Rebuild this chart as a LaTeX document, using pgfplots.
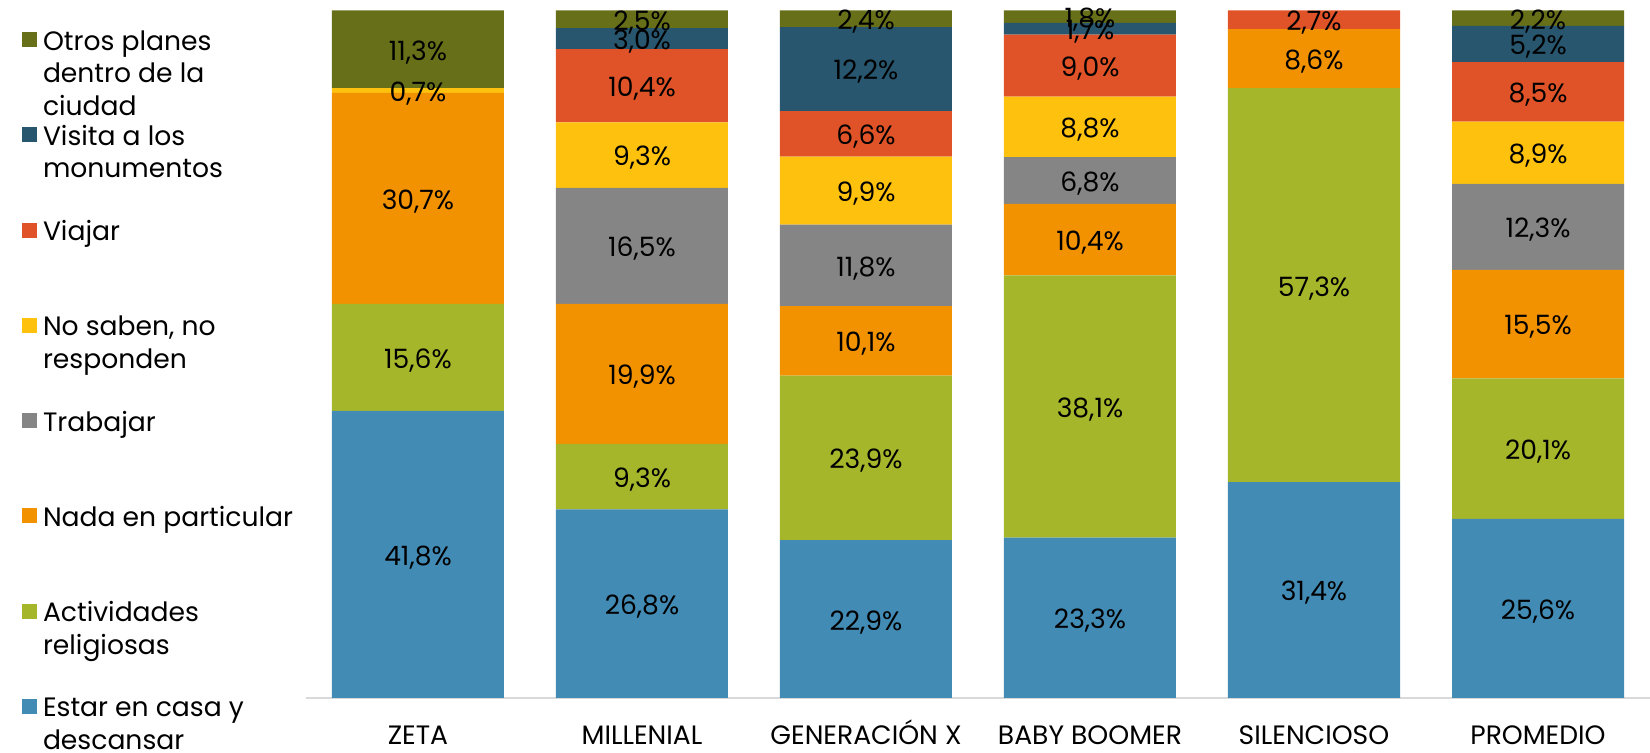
\documentclass[border=0pt]{standalone}
\usepackage{pgfplots}
\pgfplotsset{compat=1.18}
\usepackage{pgfplotstable}
\usepackage{fontspec}
\setmainfont{Poppins}

\definecolor{cCasa}{HTML}{428BB5}
\definecolor{cRel}{HTML}{A5B62B}
\definecolor{cNada}{HTML}{F39200}
\definecolor{cTrab}{HTML}{858585}
\definecolor{cNsnr}{HTML}{FEC20E}
\definecolor{cViaj}{HTML}{E05328}
\definecolor{cVisi}{HTML}{27566E}
\definecolor{cOtros}{HTML}{677019}

% valores en %, de abajo hacia arriba
\pgfplotstableread{
x casa rel  nada trab nsnr viaj visi otros
0 41.8 15.6 30.7 0    0.7  0    0    11.3
1 26.8 9.3  19.9 16.5 9.3  10.4 3.0  2.5
2 22.9 23.9 10.1 11.8 9.9  6.6  12.2 2.4
3 23.3 38.1 10.4 6.8  8.8  9.0  1.7  1.8
4 31.4 57.3 8.6  0    0    2.7  0    0
5 25.6 20.1 15.5 12.3 8.9  8.5  5.2  2.2
}\datos

% barras al 100%
\newcommand\tot{(\thisrow{casa}+\thisrow{rel}+\thisrow{nada}+\thisrow{trab}+\thisrow{nsnr}+\thisrow{viaj}+\thisrow{visi}+\thisrow{otros})}
\newcommand\lgd[1]{\parbox[t]{150pt}{\strut #1}}
\newcommand\fnt{\fontsize{13.3}{16.3}\selectfont}

\pgfplotsset{base/.style={
    scale only axis,
    width=672pt, height=343.75pt,
    ymin=0, ymax=100,
    xmin=-0.5, xmax=5.5,
}}

\begin{document}
\begin{tikzpicture}
\useasboundingbox (-153pt,-27.5pt) rectangle (672pt,349pt);
\begin{axis}[
    base,
    ybar stacked,
    bar width=86pt,
    axis y line=none,
    axis x line*=bottom,
    x axis line style={draw=black!15, line width=0.75pt},
    major tick length=0pt,
    xtick={0,...,5},
    xticklabels={ZETA,MILLENIAL,GENERACIÓN X,BABY BOOMER,SILENCIOSO,PROMEDIO},
    xticklabel style={anchor=base, yshift=-23.5pt, font=\fnt},
    reverse legend,
    legend cell align=left,
    legend style={draw=none, fill=none, at={(-0.2113,0.9757)}, anchor=north west,
        inner sep=0pt, outer sep=0pt, row sep={47.64pt,between origins}, column sep=3pt,
        font=\fnt, cells={anchor=base west}, nodes={inner sep=0pt}},
    legend image code/.code={\fill[#1,draw=none] (0pt,1.5pt) rectangle (7.5pt,9pt);},
  ]
  \addplot[fill=cCasa, draw=none] table[x=x, y expr=100*\thisrow{casa}/\tot] {\datos};
  \addplot[fill=cRel, draw=none] table[x=x, y expr=100*\thisrow{rel}/\tot] {\datos};
  \addplot[fill=cNada, draw=none] table[x=x, y expr=100*\thisrow{nada}/\tot] {\datos};
  \addplot[fill=cTrab, draw=none] table[x=x, y expr=100*\thisrow{trab}/\tot] {\datos};
  \addplot[fill=cNsnr, draw=none] table[x=x, y expr=100*\thisrow{nsnr}/\tot] {\datos};
  \addplot[fill=cViaj, draw=none] table[x=x, y expr=100*\thisrow{viaj}/\tot] {\datos};
  \addplot[fill=cVisi, draw=none] table[x=x, y expr=100*\thisrow{visi}/\tot] {\datos};
  \addplot[fill=cOtros, draw=none] table[x=x, y expr=100*\thisrow{otros}/\tot] {\datos};
  \legend{\lgd{Estar en casa y\\descansar},
          \lgd{Actividades\\religiosas},
          \lgd{Nada en particular},
          \lgd{Trabajar},
          \lgd{No saben, no\\responden},
          \lgd{Viajar},
          \lgd{Visita a los\\monumentos},
          \lgd{Otros planes\\dentro de la\\ciudad}}
\end{axis}
% etiquetas centradas en cada tramo
\begin{axis}[
    base,
    hide axis,
    point meta=explicit,
    nodes near coords={\pgfmathfloatparsenumber{\pgfplotspointmeta}\pgfmathfloatifflags{\pgfmathresult}{0}{}{\pgfmathprintnumber[fixed,fixed zerofill,precision=1,use comma,assume math mode=true]{\pgfplotspointmeta}\%}},
    every node near coord/.append style={anchor=center, yshift=-1.5pt, inner sep=0pt, font=\fnt, text=black},
  ]
  \addplot[draw=none, mark=none] table[x=x, y expr=100*(\thisrow{casa}/2)/\tot, meta=casa] {\datos};
  \addplot[draw=none, mark=none] table[x=x, y expr=100*(\thisrow{casa}+\thisrow{rel}/2)/\tot, meta=rel] {\datos};
  \addplot[draw=none, mark=none] table[x=x, y expr=100*(\thisrow{casa}+\thisrow{rel}+\thisrow{nada}/2)/\tot, meta=nada] {\datos};
  \addplot[draw=none, mark=none] table[x=x, y expr=100*(\thisrow{casa}+\thisrow{rel}+\thisrow{nada}+\thisrow{trab}/2)/\tot, meta=trab] {\datos};
  \addplot[draw=none, mark=none] table[x=x, y expr=100*(\thisrow{casa}+\thisrow{rel}+\thisrow{nada}+\thisrow{trab}+\thisrow{nsnr}/2)/\tot, meta=nsnr] {\datos};
  \addplot[draw=none, mark=none] table[x=x, y expr=100*(\thisrow{casa}+\thisrow{rel}+\thisrow{nada}+\thisrow{trab}+\thisrow{nsnr}+\thisrow{viaj}/2)/\tot, meta=viaj] {\datos};
  \addplot[draw=none, mark=none] table[x=x, y expr=100*(\thisrow{casa}+\thisrow{rel}+\thisrow{nada}+\thisrow{trab}+\thisrow{nsnr}+\thisrow{viaj}+\thisrow{visi}/2)/\tot, meta=visi] {\datos};
  \addplot[draw=none, mark=none] table[x=x, y expr=100*(\thisrow{casa}+\thisrow{rel}+\thisrow{nada}+\thisrow{trab}+\thisrow{nsnr}+\thisrow{viaj}+\thisrow{visi}+\thisrow{otros}/2)/\tot, meta=otros] {\datos};
\end{axis}
\end{tikzpicture}
\end{document}
